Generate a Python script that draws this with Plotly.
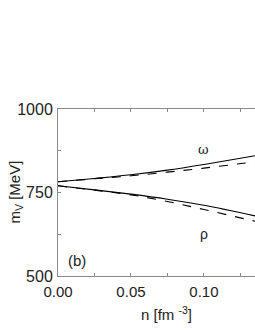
import plotly.graph_objects as go

n = [0.0, 0.025, 0.05, 0.075, 0.10, 0.135]
omega_solid = [782, 792, 803, 817, 834, 860]
omega_dashed = [782, 791, 800, 811, 823, 842]
rho_solid = [770, 758, 745, 730, 712, 680]
rho_dashed = [770, 757, 743, 723, 699, 664]

xtick_vals = [0.0, 0.05, 0.10]
xtick_text = ["0.00", "0.05", "0.10"]
ytick_vals = [500, 750, 1000]
ytick_text = ["500", "750", "1000"]

FONT = "Liberation Sans, Arial, sans-serif"
fig = go.Figure()
for y, dash in [(omega_solid, "solid"), (omega_dashed, "dash"),
                (rho_solid, "solid"), (rho_dashed, "dash")]:
    fig.add_trace(go.Scatter(x=n, y=y, mode="lines", line_shape="spline",
                             line=dict(color="black", width=1.1, dash=dash),
                             showlegend=False, hoverinfo="skip"))

axcol = "#8a8a8a"
fig.update_layout(
    width=255, height=330,
    margin=dict(l=58, r=0, t=109, b=54),
    paper_bgcolor="white", plot_bgcolor="white",
    font=dict(family=FONT, size=15, color="#222"),
    xaxis=dict(range=[0, 0.135], tickvals=xtick_vals, ticktext=xtick_text,
               automargin=False,
               ticks="inside", ticklen=3, tickcolor=axcol,
               showline=True, linecolor=axcol, linewidth=1, mirror="ticks",
               showgrid=False, zeroline=False,
               minor=dict(dtick=0.025, tick0=0, ticks="inside", ticklen=3, tickcolor=axcol, showgrid=False),
               tickfont=dict(size=15), ticklabelstandoff=2),
    yaxis=dict(range=[500, 1000], tickvals=ytick_vals, ticktext=ytick_text,
               automargin=False,
               ticks="inside", ticklen=3, tickcolor=axcol,
               showline=True, linecolor=axcol, linewidth=1,
               showgrid=False, zeroline=False,
               minor=dict(dtick=125, tick0=500, ticks="inside", ticklen=3, tickcolor=axcol, showgrid=False),
               tickfont=dict(size=16), ticklabelstandoff=1),
)

fig.add_annotation(text="ω", x=0.1, y=878, xref="x", yref="y", showarrow=False,
                   font=dict(size=13, family="DejaVu Serif, serif"))
fig.add_annotation(text="ρ", x=0.1, y=627, xref="x", yref="y", showarrow=False,
                   font=dict(size=14))
fig.add_annotation(text="(b)", x=0.013, y=545, xref="x", yref="y", showarrow=False,
                   font=dict(size=15))
fig.add_annotation(text="m<sub>V</sub> [MeV]", x=-0.218, y=0.5, xref="paper", yref="paper",
                   xanchor="center", yanchor="middle",
                   showarrow=False, textangle=-90, font=dict(size=15))
fig.add_annotation(text="n [fm <sup>-3</sup>]", x=0.553, y=0, xref="paper", yref="paper",
                   yanchor="middle", yshift=-37, showarrow=False, font=dict(size=15))

fig.write_html("out.html", config={"displayModeBar": False},
               post_script="document.body.style.margin='0';")
